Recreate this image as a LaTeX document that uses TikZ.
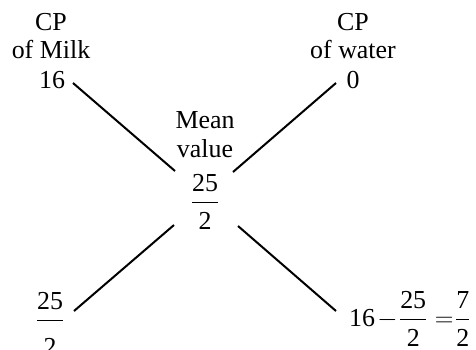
\documentclass[tikz,border=0pt]{standalone}
\usepackage{fix-cm}
\usepackage{amsmath}
\usepackage{fontspec}
\setmainfont{Liberation Serif}
\newcommand{\myfr}[3][2bp]{\dfrac{\text{#2}}{\raisebox{-#1}{\text{#3}}}}
\begin{document}
\begin{tikzpicture}[x=1bp,y=-1bp,
  lbl/.style={inner sep=0pt, font=\fontsize{26}{29}\selectfont},
  conn/.style={line width=2bp}]
\nulldelimiterspace=0pt
\useasboundingbox (0,0) rectangle (476,349);
% top left
\node[lbl,anchor=base] (cpl) at (51,30) {CP};
\node[lbl,anchor=base] (milk) at (51,58) {of Milk};
\node[lbl,anchor=base] (sixteen) at (52,88) {16};
% top right
\node[lbl,anchor=base] (cpr) at (353,30) {CP};
\node[lbl,anchor=base] (water) at (353,58) {of water};
\node[lbl,anchor=base] (zero) at (353,88) {0};
% centre
\node[lbl,anchor=base] (mean) at (205,128) {Mean};
\node[lbl,anchor=base] (value) at (205,157) {value};
\node[lbl] (mid) at (205,202) {$\nulldelimiterspace=0pt\myfr{25}{2}$};
% bottom
\node[lbl] (bl) at (50,324) {$\nulldelimiterspace=0pt\myfr[10bp]{25}{2}$};
\node[lbl,anchor=west] (br) at (349,319) {$\nulldelimiterspace=0pt\text{16}\mkern1.5mu{-}\mkern2mu\myfr{25}{2}\mkern6mu{=}\mkern2mu\myfr{7}{2}$};
% connector end points
\coordinate (a1) at (73,83);   \coordinate (a2) at (175,171);
\coordinate (b1) at (336,83);  \coordinate (b2) at (233,172);
\coordinate (c1) at (174,225); \coordinate (c2) at (74,311);
\coordinate (d1) at (238,226); \coordinate (d2) at (336,311);
\draw[conn] (a1) -- (a2);
\draw[conn] (b1) -- (b2);
\draw[conn] (c1) -- (c2);
\draw[conn] (d1) -- (d2);
\end{tikzpicture}
\end{document}
